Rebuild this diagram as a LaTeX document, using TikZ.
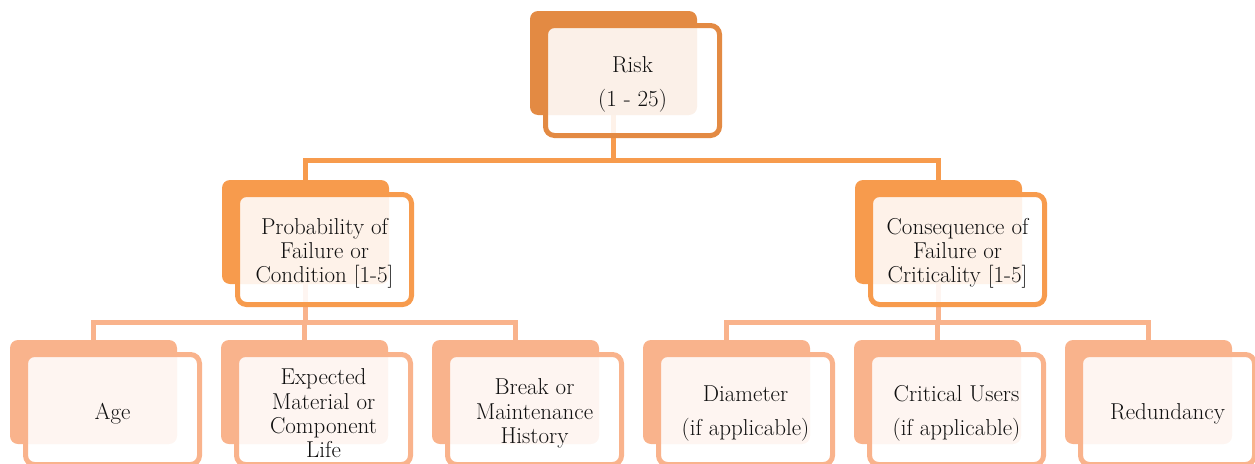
\documentclass[tikz,border=0pt]{standalone}
\usetikzlibrary{calc}
\definecolor{cA}{HTML}{E38A43}
\definecolor{cB}{HTML}{F79B4D}
\definecolor{cC}{HTML}{F9B38C}
\definecolor{txt}{HTML}{101010}
\pgfdeclarelayer{background}
\pgfsetlayers{background,main}
\tikzset{
  backbox/.style={rectangle, rounded corners=8pt, minimum width=167pt, minimum height=104pt, inner sep=0pt, draw=none},
  frontbox/.style={rectangle, rounded corners=9pt, minimum width=174pt, minimum height=110pt, inner sep=0pt, line width=5pt, fill=white, fill opacity=0.88, text opacity=1, draw opacity=1, align=center, text=txt, font=\fontsize{23}{24.3}\selectfont},
  conn/.style={line width=5pt}
}
\newcommand\tierbox[5]{%
  \node[backbox, fill=#4] (#1-b) at (#2+83.5, #3+52) {};
  \node[frontbox, draw=#4] (#1) at (#2+102.5, #3+69.5) {\rule{0pt}{24pt}#5};
}
\begin{document}
\begin{tikzpicture}[x=1pt, y=-1pt]
\useasboundingbox (0,0) rectangle (1255,463);
\clip (0,0) rectangle (1255,463);
\coordinate (bar1) at (0,160);
\coordinate (bar2) at (0,322);
\tierbox{risk}{530}{11}{cA}{Risk\\[9.7pt](1 - 25)}
\tierbox{prob}{222}{180}{cB}{Probability of\\Failure or\\Condition [1-5]}
\tierbox{cons}{855}{180}{cB}{Consequence of\\Failure or\\Criticality [1-5]}
\tierbox{age}{10}{340}{cC}{Age}
\tierbox{life}{221}{340}{cC}{Expected\\Material or\\Component\\Life}
\tierbox{hist}{432}{340}{cC}{Break or\\Maintenance\\History}
\tierbox{diam}{643}{340}{cC}{Diameter\\[9.7pt](if applicable)}
\tierbox{users}{854}{340}{cC}{Critical Users\\[9.7pt](if applicable)}
\tierbox{red}{1065}{340}{cC}{Redundancy}
\begin{pgfonlayer}{background}
  \draw[conn, draw=cB] (risk-b.center) -- (risk-b.center |- bar1) -| (prob-b.north);
  \draw[conn, draw=cB] (risk-b.center |- bar1) -| (cons-b.north);
  \draw[conn, draw=cC] (prob-b.center) -- (prob-b.center |- bar2);
  \draw[conn, draw=cC] (age-b.north) |- (prob-b.center |- bar2) -| (hist-b.north);
  \draw[conn, draw=cC] (life-b.north) -- (life-b.north |- bar2);
  \draw[conn, draw=cC] (cons-b.center) -- (cons-b.center |- bar2);
  \draw[conn, draw=cC] (diam-b.north) |- (cons-b.center |- bar2) -| (red-b.north);
  \draw[conn, draw=cC] (users-b.north) -- (users-b.north |- bar2);
\end{pgfonlayer}
\end{tikzpicture}
\end{document}
